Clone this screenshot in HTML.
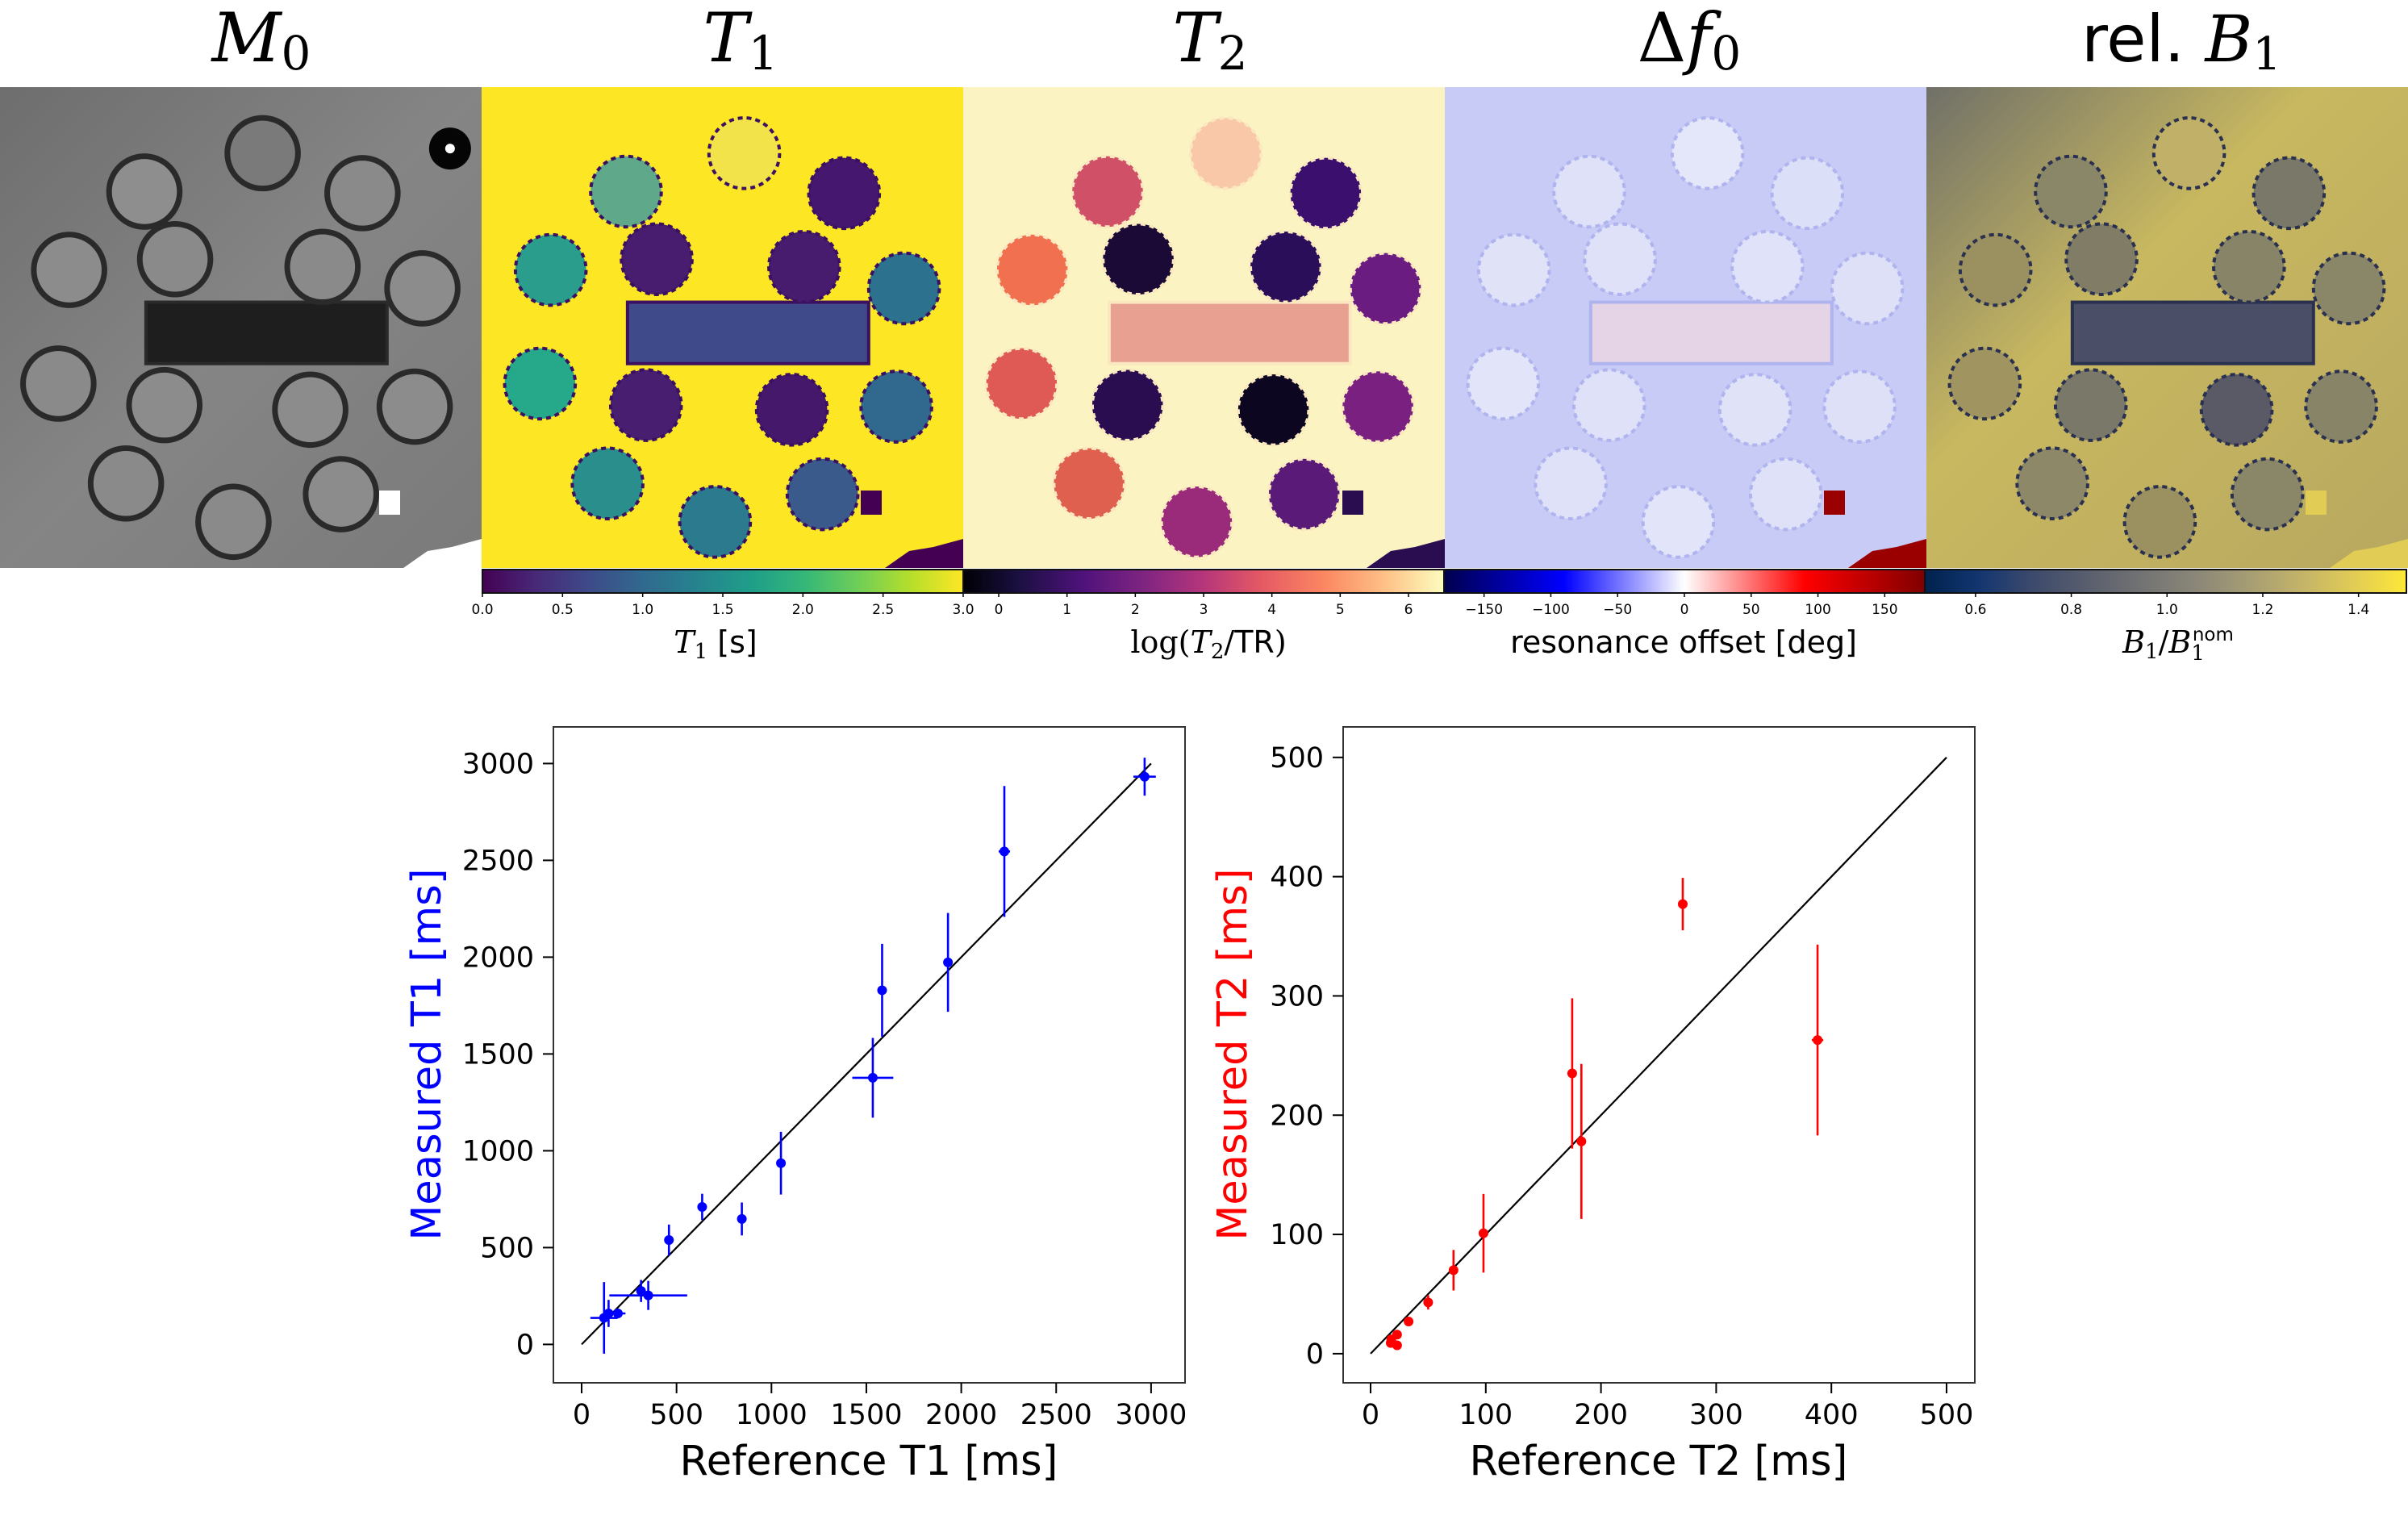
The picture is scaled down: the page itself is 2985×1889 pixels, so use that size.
<!DOCTYPE html>
<html><head><meta charset="utf-8"><title>MRI maps and T1/T2 validation</title>
<style>
html,body{margin:0;padding:0;background:#fff;}
svg{display:block;}
text{font-family:"DejaVu Sans","Liberation Sans",sans-serif;}
.ser{font-family:"DejaVu Serif","Liberation Serif",serif;font-style:italic;}
</style></head>
<body>
<svg id="fig" width="2985" height="1889" viewBox="0 0 2985 1889" xmlns="http://www.w3.org/2000/svg">
<defs>
<linearGradient id="viridis" x1="0" x2="1" y1="0" y2="0">
<stop offset="0" stop-color="#440154"/><stop offset="0.11" stop-color="#482878"/><stop offset="0.22" stop-color="#3e4a89"/><stop offset="0.33" stop-color="#31688e"/><stop offset="0.44" stop-color="#26828e"/><stop offset="0.56" stop-color="#1f9e89"/><stop offset="0.67" stop-color="#35b779"/><stop offset="0.78" stop-color="#6ece58"/><stop offset="0.89" stop-color="#b5de2b"/><stop offset="1" stop-color="#fde725"/></linearGradient>
<linearGradient id="magma" x1="0" x2="1" y1="0" y2="0">
<stop offset="0" stop-color="#000004"/><stop offset="0.12" stop-color="#1c1044"/><stop offset="0.25" stop-color="#4f127b"/><stop offset="0.38" stop-color="#812581"/><stop offset="0.5" stop-color="#b5367a"/><stop offset="0.62" stop-color="#e55964"/><stop offset="0.75" stop-color="#fb8761"/><stop offset="0.88" stop-color="#fec287"/><stop offset="1" stop-color="#fcfdbf"/></linearGradient>
<linearGradient id="seismic" x1="0" x2="1" y1="0" y2="0">
<stop offset="0" stop-color="#00004c"/><stop offset="0.25" stop-color="#0000ff"/><stop offset="0.5" stop-color="#ffffff"/><stop offset="0.75" stop-color="#ff0000"/><stop offset="1" stop-color="#800000"/></linearGradient>
<linearGradient id="cividis" x1="0" x2="1" y1="0" y2="0">
<stop offset="0" stop-color="#00224e"/><stop offset="0.11" stop-color="#123570"/><stop offset="0.22" stop-color="#3b496c"/><stop offset="0.33" stop-color="#575d6d"/><stop offset="0.44" stop-color="#707173"/><stop offset="0.56" stop-color="#8a8678"/><stop offset="0.67" stop-color="#a59c74"/><stop offset="0.78" stop-color="#c3b369"/><stop offset="0.89" stop-color="#e1cc55"/><stop offset="1" stop-color="#fee838"/></linearGradient>
<linearGradient id="m0bg" x1="0" x2="1" y1="0" y2="1"><stop offset="0" stop-color="#6e6e6e"/><stop offset="0.5" stop-color="#858585"/><stop offset="1" stop-color="#7a7a7a"/></linearGradient>
<linearGradient id="b1bg" x1="0" x2="1" y1="0" y2="1"><stop offset="0" stop-color="#707068"/><stop offset="0.4" stop-color="#c8b860"/><stop offset="1" stop-color="#b8a860"/></linearGradient>
</defs>

<text class="ser" x="324" y="76" font-size="84" text-anchor="middle">M<tspan font-size="58" font-style="normal" dy="10">0</tspan></text>
<text class="ser" x="918" y="76" font-size="84" text-anchor="middle">T<tspan font-size="58" font-style="normal" dy="10">1</tspan></text>
<text class="ser" x="1500" y="76" font-size="84" text-anchor="middle">T<tspan font-size="58" font-style="normal" dy="10">2</tspan></text>
<text class="ser" x="2094" y="76" font-size="84" text-anchor="middle"><tspan font-style="normal">Δ</tspan>f<tspan font-size="58" font-style="normal" dy="10">0</tspan></text>
<text x="2704" y="76" font-size="80" text-anchor="middle">rel. <tspan class="ser" font-family="DejaVu Serif" font-style="italic">B</tspan><tspan font-size="56" font-family="DejaVu Serif" dy="10">1</tspan></text>

<g id="panels"></g>
<g id="colorbars"></g>
<g id="plotL"></g>
<g id="plotR"></g>
</svg>

<script>
// ---------- chart data: T1 ----------
var t1Ref    = [118, 142, 191, 313, 351, 460, 635, 844, 1050, 1534, 1583, 1930, 2227, 2966];
var t1Meas   = [137, 160, 160, 276, 253, 539, 710, 648, 936, 1377, 1829, 1973, 2546, 2932];
var t1MeasErr= [185, 70, 20, 57, 75, 80, 68, 85, 162, 206, 240, 255, 338, 98];
var t1RefErr = [72, 0, 40, 0, 205, 0, 0, 0, 0, 108, 0, 0, 30, 59];
var t1Ticks  = [0, 500, 1000, 1500, 2000, 2500, 3000];
// ---------- chart data: T2 ----------
var t2Ref    = [17.5, 18, 23, 23, 33, 50, 72, 98, 175, 183, 271, 388];
var t2Meas   = [9, 12, 16, 7, 27, 43, 70, 101, 235, 178, 377, 263];
var t2MeasErr= [0, 0, 0, 0, 0, 6, 17, 33, 63, 65, 22, 80];
var t2RefErr = [0, 0, 0, 0, 0, 0, 0, 0, 0, 0, 0, 5];
var t2Ticks  = [0, 100, 200, 300, 400, 500];
// ---------- colorbar ticks ----------
var cbT1Ticks = ["0.0","0.5","1.0","1.5","2.0","2.5","3.0"];
var cbT2Ticks = [0,1,2,3,4,5,6];
var cbDfTicks = [-150,-100,-50,0,50,100,150];
var cbB1Ticks = ["0.6","0.8","1.0","1.2","1.4"];

var NS = "http://www.w3.org/2000/svg";
function mk(parent, tag, attrs, txt){
  var e = document.createElementNS(NS, tag);
  for (var k in attrs) e.setAttribute(k, attrs[k]);
  if (txt !== undefined) e.textContent = txt;
  parent.appendChild(e);
  return e;
}

var panels = document.getElementById('panels');
var S = 1.904;
var circleLayout = [[94,68],[171,43],[236,69],[45,119],[114,112],[210,117],[275,131],[38,193],[107,207],[202,210],[270,208],[82,258],[152,283],[222,265]];
var panelDefs = [
  {name:'m0', bg:'url(#m0bg)', fills:['#8e8e8e','#7a7a7a','#8a8a8a','#8c8c8c','#8a8a8a','#8a8a8a','#8c8c8c','#8a8a8a','#8c8c8c','#8c8c8c','#8c8c8c','#8a8a8a','#8a8a8a','#8c8c8c'], ring:'#2a2a2a', rect:'#1e1e1e', patch:'#ffffff'},
  {name:'t1', bg:'#fde725', fills:['#5fa88a','#f2e34a','#46176e','#2a9d8c','#481d6f','#471c6e','#2c728e','#26a98a','#481f70','#45186c','#31688e','#2a8f8c','#2c7a8e','#3b5a8c'], ring:'#3b1060', rect:'#3f4a8a', patch:'#440154'},
  {name:'t2', bg:'#fcf3c2', fills:['#cf5067','#f8c8a8','#3a0f6e','#f07050','#1a0a35','#2a0e5a','#6a1c80','#e05a55','#2a0c50','#0c0620','#7a2080','#e06050','#9a2a7a','#5a1a78'], ring:'#fce8c0', rect:'#e8a090', patch:'#2a0c50'},
  {name:'df0', bg:'#c7cbf5', fills:['#dfe1f8','#e4e6fa','#dcdff8','#e0e2f8','#dfe1f8','#e0e2f9','#dee0f8','#e2e4f9','#dfe1f8','#e0e2f8','#dee0f8','#dfe1f8','#e2e4f9','#dfe1f8'], ring:'#b0b4ee', rect:'#e4d4e6', patch:'#9a0000'},
  {name:'b1', bg:'url(#b1bg)', fills:['#8a8668','#c0b068','#7a7868','#9a9060','#807c66','#888468','#8a8668','#a09460','#7a7868','#5a5a66','#888468','#8c8868','#9a9060','#8a8668'], ring:'#2a3050', rect:'#4a4e66', patch:'#e1cc55'}
];
panelDefs.forEach(function(p, i){
  var x0 = Math.round(i*597), y0 = 108;
  var g = mk(panels, 'g', {});
  
  
  mk(g, 'rect', {x:x0, y:y0, width:(i==4?2985-x0:597), height:596, fill:p.bg});
  var rc = mk(g, 'rect', {x:x0+95*S, y:y0+140*S, width:157*S, height:40*S, fill:p.rect, stroke:p.ring, 'stroke-width':4});
  
  
  circleLayout.forEach(function(c, j){
    var ci = mk(g, 'circle', {cx:x0+c[0]*S, cy:y0+c[1]*S, r:23*S, fill:p.fills[j], stroke:p.ring, 'stroke-width':(i==0?7:4), 'stroke-dasharray':(i==0?'none':'6 5')});
    
    
  });
  mk(g, 'path', {d:'M'+(x0+597)+' '+(y0+560)+' L'+(x0+597)+' '+(y0+596)+' L'+(x0+500)+' '+(y0+596)+' L'+(x0+530)+' '+(y0+575)+' L'+(x0+560)+' '+(y0+570)+' Z', fill:p.patch});
  mk(g, 'rect', {x:x0+470, y:y0+500, width:26, height:30, fill:p.patch});
});
mk(panels, 'circle', {cx:293*S, cy:108+40*S, r:26, fill:'#050505'});
mk(panels, 'circle', {cx:293*S, cy:108+40*S, r:6, fill:'#ffffff'});

var cbs = document.getElementById('colorbars');
var cbDefs = [
  {name:'t1', grad:'viridis', x0:598, x1:1194, lo:0, hi:3, ticks:cbT1Ticks},
  {name:'t2', grad:'magma', x0:1194, x1:1790, lo:-0.52, hi:6.52, ticks:cbT2Ticks},
  {name:'df0', grad:'seismic', x0:1790, x1:2386, lo:-180, hi:180, ticks:cbDfTicks},
  {name:'b1', grad:'cividis', x0:2386, x1:2983, lo:0.494, hi:1.5, ticks:cbB1Ticks}
];
cbDefs.forEach(function(c){
  var g = mk(cbs, 'g', {});
  
  
  mk(g, 'rect', {x:c.x0, y:706, width:c.x1-c.x0, height:29, fill:'url(#'+c.grad+')', stroke:'#111', 'stroke-width':2});
  c.ticks.forEach(function(t){
    var v = parseFloat(t);
    var x = c.x0 + (v-c.lo)/(c.hi-c.lo)*(c.x1-c.x0);
    mk(g, 'line', {x1:x, x2:x, y1:735, y2:740, stroke:'#000', 'stroke-width':1.5});
    var lbl = (typeof t === 'number' && t < 0) ? '\u2212' + Math.abs(t) : String(t);
    var tx = mk(g, 'text', {x:x, y:761, 'font-size':17, 'text-anchor':'middle'}, lbl);
    
    
  });
});
function cbLabel(html, x, name){
  var t = mk(cbs, 'text', {x:x, y:809, 'font-size':38, 'text-anchor':'middle'});
  t.innerHTML = html;
  
  
}
cbLabel('<tspan class="ser" font-family="DejaVu Serif" font-style="italic">T</tspan><tspan font-size="26" dy="7" font-family="DejaVu Serif">1</tspan><tspan dy="-7"> [s]</tspan>', 887, 'colorbar-label-t1');
cbLabel('<tspan font-family="DejaVu Serif">log(</tspan><tspan font-family="DejaVu Serif" font-style="italic">T</tspan><tspan font-size="26" dy="7" font-family="DejaVu Serif">2</tspan><tspan dy="-7" font-family="DejaVu Serif">/</tspan>TR<tspan font-family="DejaVu Serif">)</tspan>', 1498, 'colorbar-label-t2');
cbLabel('resonance offset [deg]', 2087, 'colorbar-label-df0');
cbLabel('<tspan font-family="DejaVu Serif" font-style="italic">B</tspan><tspan font-size="26" dy="7" font-family="DejaVu Serif">1</tspan><tspan dy="-7" font-family="DejaVu Serif">/</tspan><tspan font-family="DejaVu Serif" font-style="italic">B</tspan><tspan font-size="26" dy="9" font-family="DejaVu Serif">1</tspan><tspan font-size="23" dy="-24" dx="-15">nom</tspan>', 2700, 'colorbar-label-b1');

function scatterPlot(cfg){
  var g = document.getElementById(cfg.id);
  var fx = cfg.fx, fy = cfg.fy;
  var fr = mk(g, 'rect', {x:cfg.left, y:901, width:783, height:813, fill:'#fff', stroke:'#333', 'stroke-width':2});
  
  
  cfg.ticks.forEach(function(t){
    var x = fx(t), y = fy(t);
    mk(g, 'line', {x1:x, x2:x, y1:1714, y2:1727, stroke:'#000', 'stroke-width':2});
    var tx = mk(g, 'text', {x:x, y:1765, 'font-size':35, 'text-anchor':'middle'}, String(t));
    
    
    mk(g, 'line', {x1:cfg.left-13, x2:cfg.left, y1:y, y2:y, stroke:'#000', 'stroke-width':2});
    var ty = mk(g, 'text', {x:cfg.left-24, y:y+12, 'font-size':35, 'text-anchor':'end'}, String(t));
    
    
  });
  var tmax = cfg.ticks[cfg.ticks.length-1];
  var idl = mk(g, 'line', {x1:fx(0), y1:fy(0), x2:fx(tmax), y2:fy(tmax), stroke:'#000', 'stroke-width':2.2});
  
  
  for (var i=0;i<cfg.xs.length;i++){
    var x = fx(cfg.xs[i]), y = fy(cfg.ys[i]);
    if (cfg.ye[i] > 0){
      var e1 = mk(g, 'line', {x1:x, x2:x, y1:fy(cfg.ys[i]-cfg.ye[i]), y2:fy(cfg.ys[i]+cfg.ye[i]), stroke:cfg.color, 'stroke-width':2.6});
      
      
    }
    if (cfg.xe[i] > 0){
      var e2 = mk(g, 'line', {x1:fx(cfg.xs[i]-cfg.xe[i]), x2:fx(cfg.xs[i]+cfg.xe[i]), y1:y, y2:y, stroke:cfg.color, 'stroke-width':2.6});
      
      
    }
    var pt = mk(g, 'circle', {cx:x, cy:y, r:6, fill:cfg.color});
    
    
  }
  var xl = mk(g, 'text', {x:cfg.left+391, y:1828, 'font-size':51, 'text-anchor':'middle'}, cfg.xlabel);
  
  
  var yl = mk(g, 'text', {x:0, y:0, 'font-size':51, 'text-anchor':'middle', fill:cfg.color, transform:'translate('+(cfg.left-cfg.ylOff)+',1307) rotate(-90)'}, cfg.ylabel);
  
  
}
scatterPlot({id:'plotL', name:'t1', left:686, ylOff:140, color:'#0000ff', xs:t1Ref, ys:t1Meas, ye:t1MeasErr, xe:t1RefErr, ticks:t1Ticks,
  fx:function(v){return 721 + v*0.2353;}, fy:function(v){return 1666.4 - v*0.2400;},
  xlabel:'Reference T1 [ms]', ylabel:'Measured T1 [ms]'});
scatterPlot({id:'plotR', name:'t2', left:1665, ylOff:120, color:'#ff0000', xs:t2Ref, ys:t2Meas, ye:t2MeasErr, xe:t2RefErr, ticks:t2Ticks,
  fx:function(v){return 1699 + v*1.428;}, fy:function(v){return 1677.9 - v*1.4782;},
  xlabel:'Reference T2 [ms]', ylabel:'Measured T2 [ms]'});
</script>
</body></html>
